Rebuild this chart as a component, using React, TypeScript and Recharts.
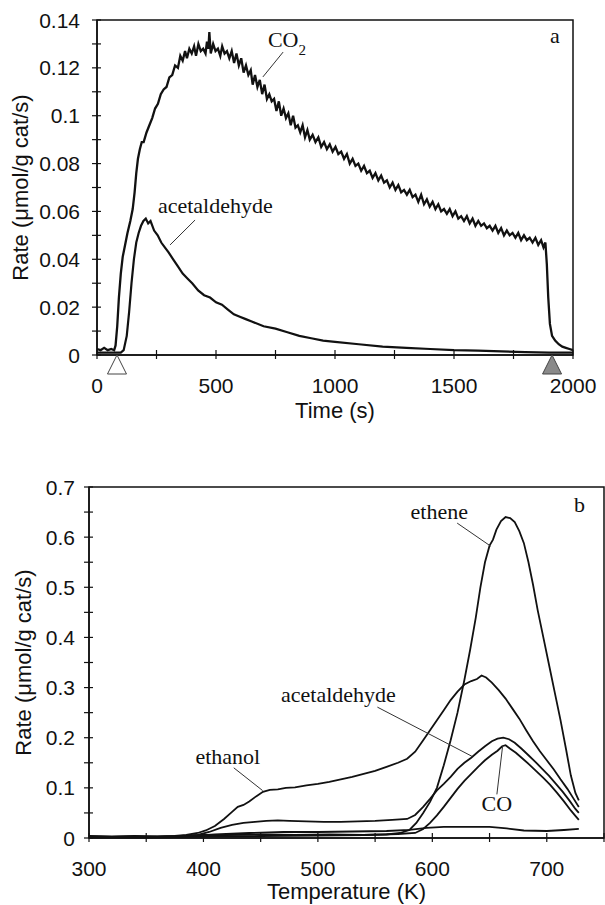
import React from 'react'
import {
  LineChart,
  Line,
  XAxis,
  YAxis,
  ReferenceArea,
  ReferenceLine,
  ReferenceDot,
  Label,
} from 'recharts'

const INK = '#111'
const SANS = '"Liberation Sans", Arial, Helvetica, sans-serif'
const SERIF = '"Liberation Serif", "Times New Roman", serif'

// panel a: rate vs time (s)
const CO2_A: [number, number][] = [
  [0, 0.0025], [15, 0.002], [30, 0.003], [45, 0.002], [60, 0.0025], [72, 0.002], [78, 0.004],
  [85, 0.012], [92, 0.024], [100, 0.034], [108, 0.041], [118, 0.046], [128, 0.051], [140, 0.056],
  [150, 0.061], [158, 0.068], [165, 0.076], [172, 0.082], [180, 0.086], [188, 0.089], [196, 0.089],
  [208, 0.093], [220, 0.096], [232, 0.099], [244, 0.103], [256, 0.105], [268, 0.109], [280, 0.111],
  [292, 0.112], [304, 0.116], [316, 0.117], [328, 0.121], [340, 0.12], [350, 0.125], [360, 0.123],
  [370, 0.127], [378, 0.124], [388, 0.128], [398, 0.126], [408, 0.129], [416, 0.125], [426, 0.13],
  [436, 0.127], [446, 0.128], [456, 0.126], [462, 0.131], [468, 0.128], [472, 0.135], [478, 0.126],
  [488, 0.13], [498, 0.127], [508, 0.128], [518, 0.125], [526, 0.129], [536, 0.126], [546, 0.127],
  [556, 0.124], [566, 0.127], [576, 0.122], [586, 0.126], [596, 0.121], [606, 0.124], [616, 0.118],
  [626, 0.121], [636, 0.117], [646, 0.119], [654, 0.113], [664, 0.117], [674, 0.112], [684, 0.115],
  [694, 0.109], [704, 0.113], [714, 0.107], [724, 0.109], [734, 0.106], [744, 0.107], [754, 0.102],
  [764, 0.106], [774, 0.1], [784, 0.103], [794, 0.099], [804, 0.101], [814, 0.096], [824, 0.1],
  [834, 0.095], [844, 0.096], [854, 0.093], [864, 0.096], [874, 0.091], [884, 0.094], [894, 0.09],
  [906, 0.092], [918, 0.089], [930, 0.091], [942, 0.087], [954, 0.089], [966, 0.086], [978, 0.088],
  [990, 0.085], [1002, 0.087], [1014, 0.084], [1026, 0.085], [1038, 0.082], [1050, 0.084],
  [1062, 0.08], [1074, 0.082], [1086, 0.079], [1098, 0.08], [1110, 0.077], [1122, 0.079],
  [1134, 0.076], [1146, 0.077], [1158, 0.074], [1170, 0.076], [1182, 0.073], [1194, 0.075],
  [1206, 0.072], [1218, 0.073], [1230, 0.07], [1242, 0.072], [1254, 0.069], [1266, 0.071],
  [1278, 0.068], [1290, 0.069], [1302, 0.067], [1314, 0.069], [1326, 0.066], [1338, 0.067],
  [1350, 0.064], [1362, 0.067], [1374, 0.063], [1386, 0.065], [1398, 0.062], [1410, 0.064],
  [1422, 0.061], [1434, 0.063], [1446, 0.06], [1458, 0.061], [1470, 0.059], [1482, 0.061],
  [1494, 0.058], [1506, 0.06], [1518, 0.057], [1530, 0.058], [1542, 0.056], [1554, 0.058],
  [1566, 0.055], [1578, 0.057], [1590, 0.054], [1602, 0.056], [1614, 0.054], [1626, 0.055],
  [1638, 0.053], [1650, 0.054], [1662, 0.052], [1674, 0.054], [1686, 0.051], [1698, 0.053],
  [1710, 0.05], [1722, 0.052], [1734, 0.05], [1746, 0.051], [1758, 0.049], [1770, 0.051],
  [1782, 0.048], [1794, 0.05], [1806, 0.048], [1818, 0.049], [1830, 0.047], [1842, 0.049],
  [1854, 0.046], [1866, 0.048], [1876, 0.045], [1884, 0.047], [1890, 0.038], [1896, 0.024],
  [1903, 0.013], [1912, 0.008], [1925, 0.006], [1940, 0.0045], [1955, 0.0035], [1970, 0.003],
  [1985, 0.0025], [2000, 0.002],
]

const ACETALDEHYDE_A: [number, number][] = [
  [0, 0.001], [50, 0.001], [100, 0.001], [112, 0.002], [125, 0.008], [135, 0.018], [145, 0.03],
  [155, 0.04], [165, 0.047], [175, 0.051], [185, 0.054], [195, 0.056], [205, 0.057], [215, 0.055],
  [225, 0.056], [240, 0.052], [255, 0.05], [270, 0.047], [285, 0.045], [300, 0.043], [320, 0.04],
  [340, 0.037], [360, 0.034], [380, 0.032], [400, 0.03], [425, 0.027], [450, 0.025], [475, 0.024],
  [500, 0.022], [525, 0.021], [550, 0.019], [575, 0.017], [600, 0.016], [625, 0.015], [650, 0.014],
  [700, 0.012], [750, 0.011], [800, 0.0095], [850, 0.008], [900, 0.007], [950, 0.006],
  [1000, 0.0055], [1100, 0.0045], [1200, 0.0035], [1300, 0.003], [1400, 0.0025], [1500, 0.002],
  [1600, 0.0018], [1700, 0.0015], [1800, 0.0012], [1900, 0.001], [2000, 0.001],
]

const A_X_TICKS = [0, 250, 500, 750, 1000, 1250, 1500, 1750, 2000]
const A_X_LABELS = [0, 500, 1000, 1500, 2000]
const A_Y_TICKS = [0, 0.01, 0.02, 0.03, 0.04, 0.05, 0.06, 0.07, 0.08, 0.09, 0.1, 0.11, 0.12, 0.13, 0.14]
const A_Y_LABELS = [0, 0.02, 0.04, 0.06, 0.08, 0.1, 0.12, 0.14]
const A_START = 84
const A_STOP = 1912

// panel b: rate vs temperature (K)
const ETHENE_B: [number, number][] = [
  [300, 0.003], [320, 0.002], [340, 0.003], [360, 0.002], [380, 0.004], [400, 0.006], [420, 0.006],
  [450, 0.007], [480, 0.006], [510, 0.007], [540, 0.006], [560, 0.007], [572, 0.01], [580, 0.016],
  [586, 0.03], [592, 0.05], [598, 0.072], [604, 0.1], [610, 0.145], [616, 0.195], [622, 0.25],
  [628, 0.315], [633, 0.375], [638, 0.44], [642, 0.5], [646, 0.55], [650, 0.583], [653, 0.595],
  [656, 0.615], [660, 0.632], [664, 0.64], [668, 0.638], [672, 0.63], [676, 0.612], [680, 0.588],
  [684, 0.55], [688, 0.505], [692, 0.455], [697, 0.4], [702, 0.345], [707, 0.29], [712, 0.235],
  [717, 0.175], [721, 0.125], [725, 0.09], [728, 0.075],
]

const ETHANOL_B: [number, number][] = [
  [300, 0.004], [320, 0.003], [340, 0.004], [360, 0.003], [375, 0.004], [385, 0.006], [395, 0.01],
  [402, 0.015], [410, 0.024], [418, 0.038], [425, 0.052], [430, 0.062], [435, 0.066], [440, 0.073],
  [446, 0.083], [452, 0.092], [458, 0.096], [465, 0.097], [472, 0.1], [480, 0.101], [490, 0.105],
  [500, 0.108], [510, 0.112], [520, 0.117], [530, 0.122], [540, 0.128], [550, 0.134], [560, 0.142],
  [570, 0.15], [578, 0.158], [585, 0.172], [592, 0.195], [598, 0.215], [604, 0.235], [610, 0.255],
  [616, 0.275], [622, 0.292], [628, 0.306], [634, 0.313], [639, 0.317], [643, 0.324], [647, 0.32],
  [652, 0.31], [658, 0.295], [664, 0.278], [670, 0.258], [676, 0.238], [682, 0.215], [688, 0.193],
  [694, 0.173], [700, 0.155], [706, 0.137], [712, 0.117], [718, 0.098], [723, 0.08], [728, 0.062],
]

const ACETALDEHYDE_B: [number, number][] = [
  [300, 0.002], [340, 0.002], [380, 0.003], [395, 0.006], [405, 0.012], [415, 0.02], [425, 0.026],
  [435, 0.03], [445, 0.032], [455, 0.034], [465, 0.035], [475, 0.034], [490, 0.033], [505, 0.032],
  [520, 0.032], [535, 0.033], [550, 0.034], [565, 0.036], [578, 0.038], [585, 0.046], [592, 0.062],
  [598, 0.078], [604, 0.095], [610, 0.108], [616, 0.122], [622, 0.138], [628, 0.15], [634, 0.16],
  [640, 0.172], [646, 0.183], [652, 0.193], [657, 0.198], [662, 0.2], [667, 0.197], [672, 0.19],
  [678, 0.178], [684, 0.165], [690, 0.152], [696, 0.138], [702, 0.124], [708, 0.108], [714, 0.092],
  [720, 0.074], [725, 0.058], [728, 0.05],
]

const CO_B: [number, number][] = [
  [300, 0.001], [350, 0.001], [400, 0.003], [450, 0.004], [500, 0.005], [540, 0.006], [570, 0.008],
  [585, 0.01], [592, 0.018], [598, 0.03], [604, 0.045], [610, 0.062], [616, 0.08], [622, 0.098],
  [628, 0.114], [634, 0.128], [640, 0.142], [646, 0.155], [652, 0.166], [657, 0.174], [661, 0.183],
  [664, 0.185], [668, 0.178], [673, 0.17], [679, 0.158], [685, 0.146], [691, 0.133], [697, 0.12],
  [703, 0.106], [709, 0.09], [715, 0.073], [721, 0.055], [725, 0.044], [728, 0.036],
]

const FLAT_B: [number, number][] = [
  [300, 0.002], [350, 0.002], [390, 0.004], [410, 0.007], [440, 0.01], [470, 0.012], [500, 0.012],
  [530, 0.013], [560, 0.014], [580, 0.016], [595, 0.02], [610, 0.022], [630, 0.022], [650, 0.022],
  [665, 0.019], [680, 0.015], [700, 0.014], [715, 0.016], [728, 0.018],
]

const B_X_TICKS = [300, 350, 400, 450, 500, 550, 600, 650, 700, 750]
const B_X_LABELS = [300, 400, 500, 600, 700]
const B_Y_TICKS = [0, 0.05, 0.1, 0.15, 0.2, 0.25, 0.3, 0.35, 0.4, 0.45, 0.5, 0.55, 0.6, 0.65, 0.7]
const B_Y_LABELS = [0, 0.1, 0.2, 0.3, 0.4, 0.5, 0.6, 0.7]

const pts = (arr: [number, number][]) => arr.map(([x, y]) => ({ x, y }))

function xTick(labels: number[]) {
  return (p: any) => {
    const { x, y, payload } = p
    return (
      <g>
        <line x1={x} x2={x} y1={y - 5} y2={y + 4} stroke={INK} strokeWidth={1.2} />
        {labels.includes(payload.value) && (
          <text x={x} y={y + 38} textAnchor="middle" fontFamily={SANS} fontSize={21} fill={INK}>
            {payload.value}
          </text>
        )}
      </g>
    )
  }
}

function yTick(labels: number[], gap: number) {
  return (p: any) => {
    const { x, y, payload } = p
    return (
      <g>
        <line x1={x - 5} x2={x + 4} y1={y} y2={y} stroke={INK} strokeWidth={1.2} />
        {labels.includes(payload.value) && (
          <text x={x - gap} y={y + 7.5} textAnchor="end" fontFamily={SANS} fontSize={21} fill={INK}>
            {payload.value}
          </text>
        )}
      </g>
    )
  }
}

const xTitle = (text: string, dy: number) => (p: any) => {
  const vb = p.viewBox
  return (
    <text x={vb.x + vb.width / 2} y={vb.y + dy} textAnchor="middle" fontFamily={SANS} fontSize={22} fill={INK}>
      {text}
    </text>
  )
}

const yTitle = (text: string, dx: number) => (p: any) => {
  const vb = p.viewBox
  return (
    <text
      transform={`translate(${vb.x + dx}, ${vb.y + vb.height / 2}) rotate(-90)`}
      textAnchor="middle"
      fontFamily={SANS}
      fontSize={22}
      fill={INK}
    >
      {text}
    </text>
  )
}

const note = (text: string, sub?: string) => (p: any) => (
  <text x={p.cx} y={p.cy} fontFamily={SERIF} fontSize={22} fill={INK}>
    {text}
    {sub && (
      <tspan dy={8} fontSize={15}>
        {sub}
      </tspan>
    )}
  </text>
)

const triangle = (fill: string) => (p: any) => (
  <polygon
    points={`${p.cx},${p.cy} ${p.cx - 9.5},${p.cy + 19} ${p.cx + 9.5},${p.cy + 19}`}
    fill={fill}
    stroke="#444"
    strokeWidth={1}
  />
)

const leader = { stroke: '#333', strokeWidth: 1, ifOverflow: 'visible' as const }

function PanelA() {
  return (
    <LineChart width={605} height={440} margin={{ top: 20, right: 32, bottom: 0, left: 0 }}>
      <XAxis
        type="number"
        dataKey="x"
        domain={[0, 2000]}
        ticks={A_X_TICKS}
        interval={0}
        tickSize={0}
        tickMargin={0}
        tickLine={false}
        tick={xTick(A_X_LABELS)}
        height={85}
        axisLine={{ stroke: INK, strokeWidth: 1.5 }}
      >
        <Label content={xTitle('Time (s)', 63)} />
      </XAxis>
      <YAxis
        type="number"
        domain={[0, 0.14]}
        ticks={A_Y_TICKS}
        interval={0}
        tickSize={0}
        tickMargin={0}
        tickLine={false}
        tick={yTick(A_Y_LABELS, 17)}
        width={97}
        axisLine={{ stroke: INK, strokeWidth: 1.5 }}
      >
        <Label content={yTitle('Rate (μmol/g cat/s)', 28)} />
      </YAxis>
      <ReferenceArea x1={0} x2={2000} y1={0} y2={0.14} fill="none" stroke={INK} strokeWidth={1.5} />
      <Line data={pts(CO2_A)} dataKey="y" stroke={INK} strokeWidth={2.3} dot={false} isAnimationActive={false} />
      <Line data={pts(ACETALDEHYDE_A)} dataKey="y" stroke={INK} strokeWidth={2.2} dot={false} isAnimationActive={false} />
      <ReferenceLine segment={[{ x: 782, y: 0.1266 }, { x: 697, y: 0.1162 }]} {...leader} />
      <ReferenceLine segment={[{ x: 412, y: 0.0564 }, { x: 307, y: 0.046 }]} {...leader} />
      <ReferenceDot x={718} y={0.1287} shape={note('CO', '2')} ifOverflow="visible" />
      <ReferenceDot x={256} y={0.0593} shape={note('acetaldehyde')} ifOverflow="visible" />
      <ReferenceDot x={1903} y={0.1304} shape={note('a')} ifOverflow="visible" />
      <ReferenceDot x={A_START} y={0} shape={triangle('#fff')} ifOverflow="visible" />
      <ReferenceDot x={A_STOP} y={0} shape={triangle('#8a8a8a')} ifOverflow="visible" />
    </LineChart>
  )
}

function PanelB() {
  const series = [ETHENE_B, ETHANOL_B, ACETALDEHYDE_B, CO_B, FLAT_B]
  return (
    <LineChart width={605} height={465} margin={{ top: 47, right: 1, bottom: 0, left: 0 }}>
      <XAxis
        type="number"
        dataKey="x"
        domain={[300, 750]}
        ticks={B_X_TICKS}
        interval={0}
        tickSize={0}
        tickMargin={0}
        tickLine={false}
        tick={xTick(B_X_LABELS)}
        height={67}
        axisLine={{ stroke: INK, strokeWidth: 1.5 }}
      >
        <Label content={xTitle('Temperature (K)', 61)} />
      </XAxis>
      <YAxis
        type="number"
        domain={[0, 0.7]}
        ticks={B_Y_TICKS}
        interval={0}
        tickSize={0}
        tickMargin={0}
        tickLine={false}
        tick={yTick(B_Y_LABELS, 14)}
        width={89}
        axisLine={{ stroke: INK, strokeWidth: 1.5 }}
      >
        <Label content={yTitle('Rate (μmol/g cat/s)', 31)} />
      </YAxis>
      <ReferenceArea x1={300} x2={750} y1={0} y2={0.7} fill="none" stroke={INK} strokeWidth={1.5} />
      {series.map((s, i) => (
        <Line
          key={i}
          data={pts(s)}
          dataKey="y"
          stroke={INK}
          strokeWidth={1.8}
          dot={false}
          isAnimationActive={false}
        />
      ))}
      <ReferenceLine segment={[{ x: 621.7, y: 0.628 }, { x: 651, y: 0.582 }]} {...leader} />
      <ReferenceLine segment={[{ x: 552, y: 0.261 }, { x: 634.6, y: 0.163 }]} {...leader} />
      <ReferenceLine segment={[{ x: 426.5, y: 0.14 }, { x: 451.7, y: 0.0946 }]} {...leader} />
      <ReferenceLine segment={[{ x: 656.4, y: 0.087 }, { x: 661.4, y: 0.183 }]} {...leader} />
      <ReferenceDot x={581} y={0.636} shape={note('ethene')} ifOverflow="visible" />
      <ReferenceDot x={467.8} y={0.272} shape={note('acetaldehyde')} ifOverflow="visible" />
      <ReferenceDot x={393} y={0.1476} shape={note('ethanol')} ifOverflow="visible" />
      <ReferenceDot x={643} y={0.053} shape={note('CO')} ifOverflow="visible" />
      <ReferenceDot x={723.7} y={0.65} shape={note('b')} ifOverflow="visible" />
    </LineChart>
  )
}

export default function App() {
  return (
    <div style={{ position: 'absolute', left: 0, top: 0, width: 605, height: 905, background: '#fff', overflow: 'hidden' }}>
      <div style={{ position: 'absolute', left: 0, top: 0 }}>
        <PanelA />
      </div>
      <div style={{ position: 'absolute', left: 0, top: 440 }}>
        <PanelB />
      </div>
    </div>
  )
}
